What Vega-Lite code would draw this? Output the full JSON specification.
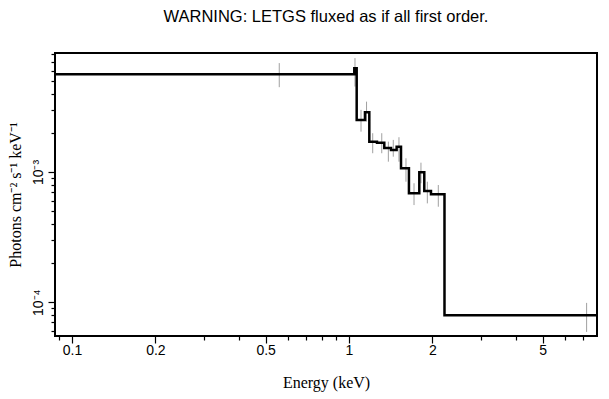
{
  "$schema": "https://vega.github.io/schema/vega-lite/v6.json",
  "width": 542,
  "height": 283,
  "autosize": {"type": "none"},
  "padding": {"left": 55, "top": 53, "right": 12, "bottom": 63},
  "background": "white",
  "title": {
    "text": "WARNING: LETGS fluxed as if all first order.",
    "font": "Liberation Sans",
    "fontSize": 16.5,
    "fontWeight": "normal",
    "color": "black",
    "anchor": "middle",
    "offset": 28
  },
  "config": {
    "view": {"stroke": "black", "strokeWidth": 2},
    "axis": {
      "grid": false,
      "domain": false,
      "tickColor": "black",
      "tickWidth": 1.2,
      "labelColor": "black",
      "labelFont": "Liberation Sans",
      "labelFontSize": 14,
      "titleColor": "black",
      "titleFont": "Liberation Serif",
      "titleFontSize": 16,
      "titleFontWeight": "normal"
    }
  },
  "datasets": {
    "steps": [
      {"E": 0.07, "F": 0.00564},
      {"E": 1.045, "F": 0.00627},
      {"E": 1.066, "F": 0.00251},
      {"E": 1.142, "F": 0.00288},
      {"E": 1.184, "F": 0.00171},
      {"E": 1.262, "F": 0.00168},
      {"E": 1.341, "F": 0.00153},
      {"E": 1.418, "F": 0.001476},
      {"E": 1.486, "F": 0.001565},
      {"E": 1.541, "F": 0.001068},
      {"E": 1.646, "F": 0.000686},
      {"E": 1.794, "F": 0.000995},
      {"E": 1.870, "F": 0.000714},
      {"E": 1.977, "F": 0.000674},
      {"E": 2.212, "F": 0.0000794},
      {"E": 12.2, "F": 0.0000794}
    ],
    "errs": [
      {"E": 0.560, "lo": 0.00448, "hi": 0.00686},
      {"E": 1.051, "lo": 0.00453, "hi": 0.00749},
      {"E": 1.105, "lo": 0.00204, "hi": 0.00300},
      {"E": 1.157, "lo": 0.00244, "hi": 0.00347},
      {"E": 1.218, "lo": 0.001393, "hi": 0.001985},
      {"E": 1.313, "lo": 0.001393, "hi": 0.001985},
      {"E": 1.387, "lo": 0.00120, "hi": 0.00171},
      {"E": 1.445, "lo": 0.001311, "hi": 0.001763},
      {"E": 1.515, "lo": 0.00120, "hi": 0.001849},
      {"E": 1.606, "lo": 0.000842, "hi": 0.001274},
      {"E": 1.717, "lo": 0.000557, "hi": 0.000819},
      {"E": 1.819, "lo": 0.000819, "hi": 0.001179},
      {"E": 1.918, "lo": 0.000574, "hi": 0.000842},
      {"E": 2.101, "lo": 0.000541, "hi": 0.000794},
      {"E": 7.21, "lo": 0.0000591, "hi": 0.0000988}
    ]
  },
  "layer": [
    {
      "data": {"name": "errs"},
      "mark": {"type": "rule", "color": "#a0a0a0", "strokeWidth": 1, "clip": true},
      "encoding": {
        "x": {
          "field": "E",
          "type": "quantitative",
          "scale": {"type": "log", "domain": [0.0868, 7.86], "nice": false},
          "axis": {
            "orient": "bottom",
            "values": [0.1, 0.2, 0.5, 1, 2, 5],
            "format": "~g",
            "tickSize": 7,
            "labelPadding": 0,
            "labelFlush": false,
            "labelOverlap": false,
            "title": "Energy (keV)",
            "titlePadding": 17
          }
        },
        "y": {
          "field": "lo",
          "type": "quantitative",
          "scale": {"type": "log", "domain": [0.000055, 0.0082], "nice": false},
          "axis": {
            "orient": "left",
            "values": [0.0001, 0.001],
            "labelExpr": "datum.value > 0.0005 ? '10⁻³' : '10⁻⁴'",
            "tickSize": 7,
            "labelAngle": -90,
            "labelAlign": "center",
            "labelBaseline": "bottom",
            "labelPadding": 3,
            "labelFlush": false,
            "labelOverlap": false,
            "title": "Photons cm⁻² s⁻¹ keV⁻¹",
            "titlePadding": 8
          }
        },
        "y2": {"field": "hi"}
      }
    },
    {
      "data": {"name": "errs"},
      "mark": {"type": "rule", "opacity": 0, "clip": true},
      "encoding": {
        "x": {
          "field": "E",
          "type": "quantitative",
          "axis": {"orient": "bottom", "values": [0.09, 0.3, 0.4, 0.6, 0.7, 0.8, 0.9, 3, 4, 6, 7], "labels": false, "tickSize": 4, "title": null}
        },
        "y": {
          "field": "lo",
          "type": "quantitative",
          "axis": {"orient": "left", "values": [0.00006, 0.00007, 0.00008, 0.00009, 0.0002, 0.0003, 0.0004, 0.0005, 0.0006, 0.0007, 0.0008, 0.0009, 0.002, 0.003, 0.004, 0.005, 0.006, 0.007, 0.008], "labels": false, "tickSize": 4, "title": null}
        }
      }
    },
    {
      "data": {"name": "steps"},
      "mark": {"type": "line", "interpolate": "step-after", "color": "black", "strokeWidth": 2.5, "clip": true},
      "encoding": {
        "x": {"field": "E", "type": "quantitative", "axis": null},
        "y": {"field": "F", "type": "quantitative", "axis": null}
      }
    }
  ],
  "resolve": {"axis": {"x": "independent", "y": "independent"}}
}
